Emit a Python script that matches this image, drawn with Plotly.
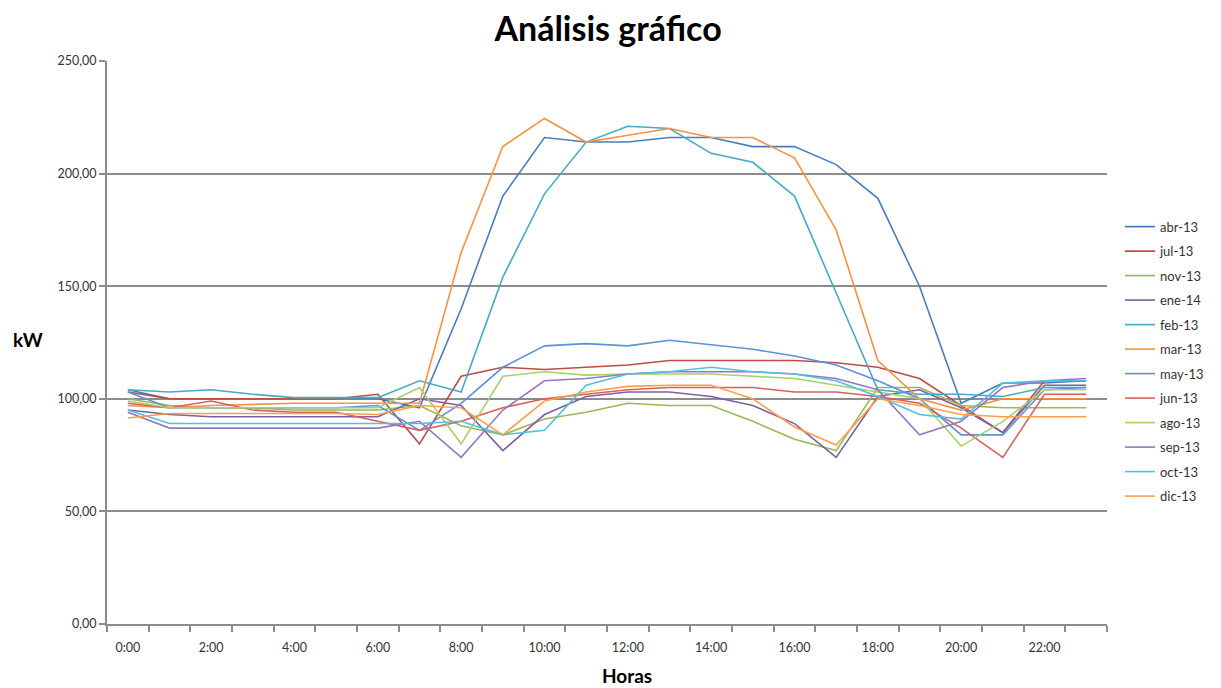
import plotly.graph_objects as go

horas = list(range(24))
etiquetas_horas = [f"{h}:00" for h in range(24)]

abr_13 = [104, 100, 100, 100, 100, 100, 100, 96, 140, 190, 216, 214, 214, 216, 216, 212, 212, 204, 189, 150, 98, 107, 107, 108]
jul_13 = [103, 100, 100, 100, 100, 100, 102, 80, 110, 114, 113, 114, 115, 117, 117, 117, 117, 116, 114, 109, 97, 85, 108, 108]
nov_13 = [100, 97, 96, 96, 95, 95, 95, 97, 88, 84, 91, 94, 98, 97, 97, 90, 82, 77, 105, 105, 97, 96, 96, 96]
ene_14 = [95, 93, 92, 92, 92, 92, 92, 100, 97, 77, 93, 101, 103, 103, 101, 97, 89, 74, 101, 104, 96, 85, 106, 106]
feb_13 = [104, 103, 104, 102, 100.5, 100.5, 100.5, 108, 103, 154, 191, 214, 221, 220, 209, 205, 190, 147, 104, 102, 102, 101, 105, 105]
mar_13 = [97, 96, 97, 97.5, 98, 98, 98, 98, 165, 212, 224.5, 214, 217, 220, 216, 216, 207, 175, 117, 100, 95, 100, 100, 100]
may_13 = [103, 96, 96, 96, 96, 96, 97, 86, 98, 114, 123.5, 124.5, 123.5, 126, 124, 122, 119, 115, 108, 100, 84, 84, 104, 105]
jun_13 = [98, 96, 99, 95, 94, 94, 90, 86, 90, 96, 100, 102, 104, 105, 105, 105, 103, 103, 101, 98, 87, 74, 102, 102]
ago_13 = [99, 96, 96, 96, 96, 96, 96, 105, 80, 110, 112, 110.5, 111, 111, 111, 110, 109, 106, 103, 100, 79, 90, 104, 104]
sep_13 = [94, 87, 87, 87, 87, 87, 87, 90, 74, 95, 108, 109, 111, 112, 112, 112, 111, 109, 104, 84, 90, 105, 108, 109]
oct_13 = [95, 89, 89, 89, 89, 89, 89, 89, 90, 84, 86, 106, 111, 112, 114, 112, 111, 108, 101, 93, 91, 107, 108, 108]
dic_13 = [91.5, 93.5, 93.5, 93.5, 93.5, 93.5, 93, 97, 96, 84, 99, 103, 105.5, 106, 106, 100, 87.5, 79.5, 100, 97, 93, 92, 92, 92]

series = [
    ("abr-13", abr_13, "#4A7EBB"),
    ("jul-13", jul_13, "#BE4B48"),
    ("nov-13", nov_13, "#98B954"),
    ("ene-14", ene_14, "#7D60A0"),
    ("feb-13", feb_13, "#46AAC5"),
    ("mar-13", mar_13, "#F69240"),
    ("may-13", may_13, "#5B93D8"),
    ("jun-13", jun_13, "#DA5F5C"),
    ("ago-13", ago_13, "#A8CF68"),
    ("sep-13", sep_13, "#9478C0"),
    ("oct-13", oct_13, "#4FC0E2"),
    ("dic-13", dic_13, "#FF9F4A"),
]

fig = go.Figure()
for name, vals, color in series:
    fig.add_trace(go.Scatter(
        x=horas, y=vals, name=name, mode="lines",
        line=dict(color=color, width=1.6),
        legendgroup=name,
    ))

FONT = "Lato, 'Open Sans', sans-serif"
GRID = "#8C8C8C"

fig.update_layout(
    width=1221, height=688,
    margin=dict(l=107, r=114, t=61, b=64),
    paper_bgcolor="white", plot_bgcolor="white",
    separators=",.",
    font=dict(family=FONT, size=12, color="#333333"),
    title=dict(text="<b>Análisis gráfico</b>", x=0.498, xanchor="center",
               y=0.958, yanchor="middle", font=dict(family=FONT, size=34, color="#000000")),
    showlegend=True,
    legend=dict(x=1.013, xanchor="left", y=0.466, yanchor="middle",
                font=dict(family=FONT, size=13, color="#333333"),
                tracegroupgap=4.6, bgcolor="rgba(0,0,0,0)"),
    xaxis=dict(
        range=[-0.5, 23.5], tickmode="array",
        tickvals=horas[::2], ticktext=etiquetas_horas[::2],
        ticks="outside", ticklen=11, tickcolor="rgba(0,0,0,0)",
        showgrid=False, zeroline=False,
        showline=True, linecolor=GRID, linewidth=2,
        tickfont=dict(family=FONT, size=12.5, color="#333333"),
        minor=dict(tickmode="linear", tick0=-0.5, dtick=1, ticks="outside",
                   ticklen=6, tickcolor=GRID, tickwidth=1.5, showgrid=False),
    ),
    yaxis=dict(
        range=[0, 250], tickmode="linear", tick0=0, dtick=50,
        tickformat=".2f",
        ticks="outside", ticklen=6, tickcolor=GRID, tickwidth=1.5,
        showgrid=True, gridcolor=GRID, gridwidth=1.5,
        zeroline=False, showline=True, linecolor=GRID, linewidth=2,
        tickfont=dict(family=FONT, size=12.5, color="#333333"),
    ),
    annotations=[
        dict(text="<b>kW</b>", xref="paper", yref="paper", x=-0.079, y=0.505,
             xanchor="center", yanchor="middle", showarrow=False,
             font=dict(family=FONT, size=19, color="#000000")),
        dict(text="<b>Horas</b>", xref="paper", yref="paper", x=0.52, y=-0.092,
             xanchor="center", yanchor="middle", showarrow=False,
             font=dict(family=FONT, size=19, color="#000000")),
    ],
)

fig.write_html("out.html")
